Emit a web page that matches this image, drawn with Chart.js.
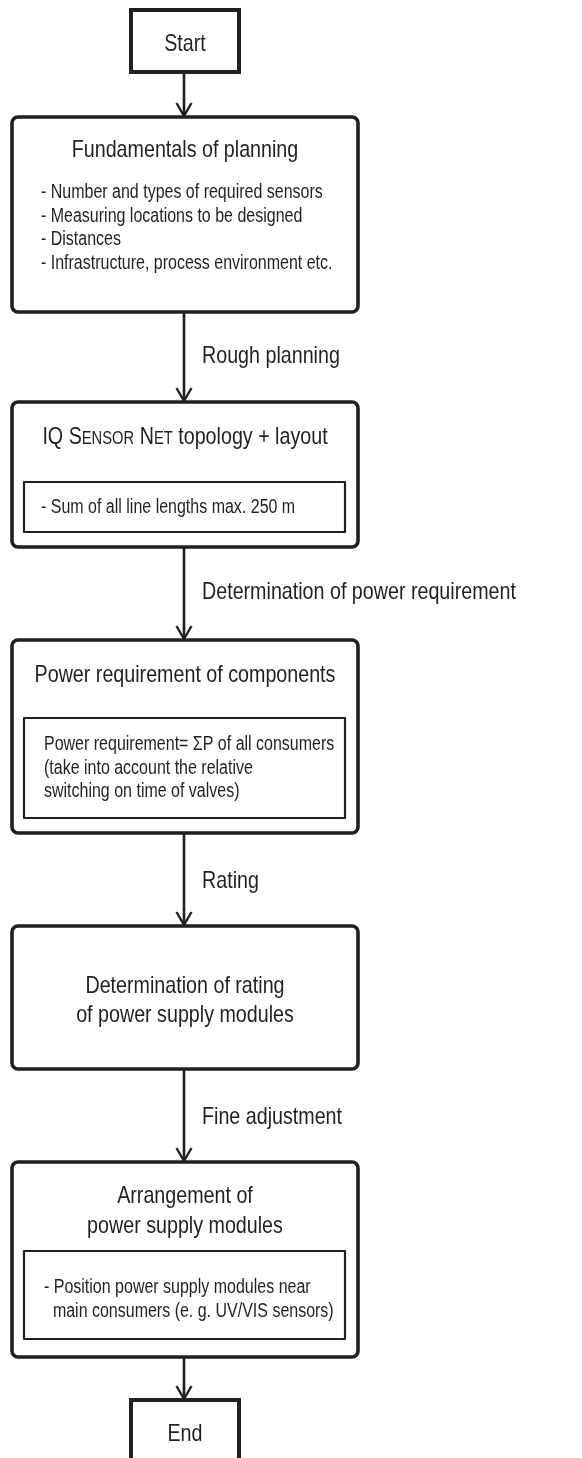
<!DOCTYPE html>
<html>
<head>
<meta charset="utf-8">
<script src="https://cdn.jsdelivr.net/npm/chart.js@4.4.1/dist/chart.umd.min.js"></script>
<style>
  html, body { margin: 0; padding: 0; background: #fff; }
  #flow { display: block; }
</style>
</head>
<body>
<canvas id="flow" width="582" height="1458"></canvas>
<script>
// flowchart texts
const terminals = ['Start', 'End'];
const stepTitles = [
	['Fundamentals of planning'],
	['IQ Sensor Net topology + layout'],
	['Power requirement of components'],
	['Determination of rating', 'of power supply modules'],
	['Arrangement of', 'power supply modules']
];
const stepNotes = [
	['- Number and types of required sensors', '- Measuring locations to be designed', '- Distances', '- Infrastructure, process environment etc.'],
	['- Sum of all line lengths max. 250 m'],
	['Power requirement= \u03A3P of all consumers', '(take into account the relative', 'switching on time of valves)'],
	[],
	['- Position power supply modules near', '  main consumers (e. g. UV/VIS sensors)']
];
const transitions = ['Rough planning', 'Determination of power requirement', 'Rating', 'Fine adjustment'];
const smallCapsWords = ['Sensor', 'Net'];

// layout (page units, y grows downwards)
const stepTop = [117, 402, 640, 926, 1162];
const stepBottom = [312, 547, 833, 1069, 1357];
const innerTop = [null, 482, 718, null, 1251];
const innerBottom = [null, 532, 818, null, 1339];
const titleBase = [[157], [444], [682], [993, 1022], [1203, 1233]];
const noteBase = [198, 513, 750, null, 1293];
const noteX = [41, 41, 44, null, 44];
const termTop = [10, 1400];
const termBottom = [72, 1472];
const termBase = [51, 1441];
const labelBase = [363, 599, 888, 1124];

const INK = '#231f20';
const TITLE_SIZE = 24;
const NOTE_SIZE = 19.5;

function hasFont(name) {
	const c = document.createElement('canvas').getContext('2d');
	c.font = '40px monospace';
	const a = c.measureText('abcdefghijklmnop').width;
	c.font = '40px "' + name + '", monospace';
	return c.measureText('abcdefghijklmnop').width !== a;
}
const narrow = hasFont('Liberation Sans Narrow');
const FAMILY = narrow ? '"Liberation Sans Narrow", "Liberation Sans", sans-serif' : '"Liberation Sans", Arial, sans-serif';
const SQUEEZE = narrow ? 1 : 0.82;

function setFont(ctx, size) {
	ctx.font = size + 'px ' + FAMILY;
}

// text with optional horizontal squeeze
function drawText(ctx, str, x, y, size, align) {
	setFont(ctx, size);
	const w = ctx.measureText(str).width * SQUEEZE;
	let left = x;
	if (align === 'center') left = x - w / 2;
	ctx.save();
	ctx.translate(left, y);
	ctx.scale(SQUEEZE, 1);
	ctx.textAlign = 'left';
	ctx.textBaseline = 'alphabetic';
	ctx.fillText(str, 0, 0);
	ctx.restore();
}

// title with small caps words
function titleRuns(str, size) {
	const runs = [];
	str.split(' ').forEach((word, i) => {
		const sep = i > 0 ? ' ' : '';
		if (smallCapsWords.includes(word)) {
			runs.push({ t: sep + word[0], s: size });
			runs.push({ t: word.slice(1).toUpperCase(), s: Math.round(size * 0.76) });
		} else {
			runs.push({ t: sep + word, s: size });
		}
	});
	return runs;
}

function drawTitle(ctx, str, cx, y, size) {
	const runs = titleRuns(str, size);
	let total = 0;
	runs.forEach(r => { setFont(ctx, r.s); r.w = ctx.measureText(r.t).width * SQUEEZE; total += r.w; });
	let x = cx - total / 2;
	runs.forEach(r => { drawText(ctx, r.t, x, y, r.s, 'left'); x += r.w; });
}

function roundRect(ctx, x0, y0, x1, y1, r) {
	ctx.beginPath();
	ctx.moveTo(x0 + r, y0);
	ctx.lineTo(x1 - r, y0);
	ctx.arcTo(x1, y0, x1, y0 + r, r);
	ctx.lineTo(x1, y1 - r);
	ctx.arcTo(x1, y1, x1 - r, y1, r);
	ctx.lineTo(x0 + r, y1);
	ctx.arcTo(x0, y1, x0, y1 - r, r);
	ctx.lineTo(x0, y0 + r);
	ctx.arcTo(x0, y0, x0 + r, y0, r);
	ctx.closePath();
	ctx.stroke();
}

function arrow(ctx, x, y0, y1) {
	ctx.lineWidth = 2.6;
	ctx.beginPath();
	ctx.moveTo(x, y0);
	ctx.lineTo(x, y1 - 1);
	ctx.stroke();
	ctx.lineWidth = 2.4;
	ctx.beginPath();
	ctx.moveTo(x - 7.5, y1 - 14);
	ctx.lineTo(x, y1 - 1);
	ctx.lineTo(x + 7.5, y1 - 14);
	ctx.stroke();
}

const flowPlugin = {
	id: 'flow',
	beforeDraw(chart) {
		const ctx = chart.ctx;
		ctx.save();
		ctx.fillStyle = '#fff';
		ctx.fillRect(0, 0, chart.width, chart.height);
		ctx.restore();
	},
	afterDraw(chart) {
		const ctx = chart.ctx;
		const sx = v => chart.scales.x.getPixelForValue(v);
		const sy = v => chart.scales.y.getPixelForValue(v);
		const cx = sx(185);
		ctx.save();
		ctx.strokeStyle = INK;
		ctx.fillStyle = INK;
		ctx.lineJoin = 'round';

		// connectors
		const stops = [[termBottom[0], stepTop[0]]];
		for (let i = 0; i < stepTop.length - 1; i++) stops.push([stepBottom[i], stepTop[i + 1]]);
		stops.push([stepBottom[stepBottom.length - 1], termTop[1]]);
		stops.forEach(s => arrow(ctx, sx(184), sy(s[0]), sy(s[1])));

		// start / end
		terminals.forEach((t, i) => {
			ctx.lineWidth = 4;
			ctx.lineJoin = 'miter';
			ctx.strokeRect(sx(131), sy(termTop[i]), sx(239) - sx(131), sy(termBottom[i]) - sy(termTop[i]));
			drawText(ctx, t, cx, sy(termBase[i]), TITLE_SIZE, 'center');
		});
		ctx.lineJoin = 'round';

		// steps
		stepTitles.forEach((lines, i) => {
			ctx.lineWidth = 3.6;
			roundRect(ctx, sx(12), sy(stepTop[i]), sx(358), sy(stepBottom[i]), 6);
			lines.forEach((ln, j) => drawTitle(ctx, ln, cx, sy(titleBase[i][j]), TITLE_SIZE));
			if (innerTop[i] !== null) {
				ctx.lineWidth = 2.2;
				ctx.strokeRect(sx(24), sy(innerTop[i]), sx(345) - sx(24), sy(innerBottom[i]) - sy(innerTop[i]));
			}
			stepNotes[i].forEach((ln, j) => {
				drawText(ctx, ln, sx(noteX[i]), sy(noteBase[i] + j * 23.7), NOTE_SIZE, 'left');
			});
		});

		// transition labels
		transitions.forEach((t, i) => drawText(ctx, t, sx(202), sy(labelBase[i]), TITLE_SIZE, 'left'));
		ctx.restore();
	}
};

new Chart(document.getElementById('flow'), {
	type: 'scatter',
	data: { datasets: [{ data: [], pointRadius: 0 }] },
	options: {
		responsive: false,
		animation: false,
		layout: { padding: 0 },
		scales: {
			x: { type: 'linear', min: 0, max: 582, display: false },
			y: { type: 'linear', min: 0, max: 1458, reverse: true, display: false }
		},
		plugins: { legend: { display: false }, tooltip: { enabled: false } }
	},
	plugins: [flowPlugin]
});
</script>
</body>
</html>
